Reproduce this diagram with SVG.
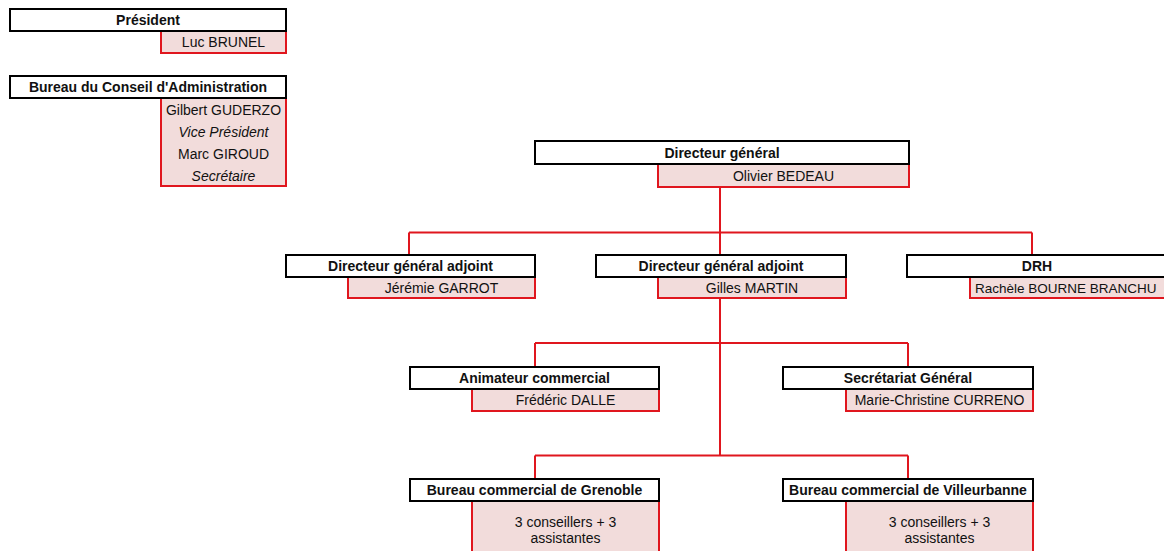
<svg xmlns="http://www.w3.org/2000/svg" width="1164" height="551" viewBox="0 0 1164 551">
<style>
.t{fill:#fff;stroke:#000;stroke-width:2}
.p{fill:#f2dcdb;stroke:none}
.pe{fill:none;stroke:#e0161e;stroke-width:2}
.c{fill:none;stroke:#e0161e;stroke-width:2}
text{font-family:"Liberation Sans",Arial,sans-serif;font-size:14px;fill:#111;text-anchor:middle}
.b{font-weight:bold}
.i{font-style:italic}
</style>
<rect width="1164" height="551" fill="#fff"/>
<g id="connectors">
<path class="c" d="M720 187V232.5M409 232.5H1032M409 232.5V255M1032 232.5V255M720 232.5V255"/>
<path class="c" d="M720 298V455.5M535 343H908M535 343V367M908 343V367M535 455.5H908M535 455.5V479M908 455.5V479"/>
</g>
<g id="president">
<rect class="p" x="161" y="31" width="125" height="22"/>
<path class="pe" d="M161 31V53H286V31"/>
<rect class="t" x="10" y="9" width="276" height="22"/>
<text class="b" x="148" y="25">Président</text>
<text x="223.5" y="47">Luc BRUNEL</text>
</g>
<g id="bureau-ca">
<rect class="p" x="161" y="98" width="125" height="88"/>
<path class="pe" d="M161 98V186H286V98"/>
<rect class="t" x="10" y="76" width="276" height="22"/>
<text class="b" x="148" y="92">Bureau du Conseil d'Administration</text>
<text x="223.5" y="115">Gilbert GUDERZO</text>
<text class="i" x="223.5" y="137">Vice Président</text>
<text x="223.5" y="159">Marc GIROUD</text>
<text class="i" x="223.5" y="181">Secrétaire</text>
</g>
<g id="dg">
<rect class="p" x="658" y="164" width="251" height="23"/>
<path class="pe" d="M658 164V187H909V164"/>
<rect class="t" x="535" y="141" width="374" height="23"/>
<text class="b" x="722" y="158">Directeur général</text>
<text x="783.5" y="181">Olivier BEDEAU</text>
</g>
<g id="dga1">
<rect class="p" x="348" y="277" width="187" height="21"/>
<path class="pe" d="M348 277V298H535V277"/>
<rect class="t" x="286" y="255" width="249" height="22"/>
<text class="b" x="410.5" y="271">Directeur général adjoint</text>
<text x="441.5" y="293">Jérémie GARROT</text>
</g>
<g id="dga2">
<rect class="p" x="658" y="277" width="188" height="21"/>
<path class="pe" d="M658 277V298H846V277"/>
<rect class="t" x="596" y="255" width="250" height="22"/>
<text class="b" x="721" y="271">Directeur général adjoint</text>
<text x="752" y="293">Gilles MARTIN</text>
</g>
<g id="drh">
<rect class="p" x="970" y="277" width="200" height="21"/>
<path class="pe" d="M970 277V298H1170"/>
<rect class="t" x="907" y="255" width="262" height="22"/>
<text class="b" x="1037" y="271">DRH</text>
<text x="975" y="293" style="text-anchor:start;font-size:13.5px">Rachèle BOURNE BRANCHU</text>
</g>
<g id="animateur">
<rect class="p" x="472" y="389" width="187" height="22"/>
<path class="pe" d="M472 389V411H659V389"/>
<rect class="t" x="410" y="367" width="249" height="22"/>
<text class="b" x="534.5" y="383">Animateur commercial</text>
<text x="565.5" y="405">Frédéric DALLE</text>
</g>
<g id="secretariat">
<rect class="p" x="846" y="389" width="187" height="22"/>
<path class="pe" d="M846 389V411H1033V389"/>
<rect class="t" x="783" y="367" width="250" height="22"/>
<text class="b" x="908" y="383">Secrétariat Général</text>
<text x="939.5" y="405">Marie-Christine CURRENO</text>
</g>
<g id="grenoble">
<rect class="p" x="472" y="501" width="187" height="52"/>
<path class="pe" d="M472 501V553M659 501V553"/>
<rect class="t" x="410" y="479" width="249" height="22"/>
<text class="b" x="534.5" y="495">Bureau commercial de Grenoble</text>
<text x="565.5" y="527">3 conseillers + 3</text>
<text x="565.5" y="543">assistantes</text>
</g>
<g id="villeurbanne">
<rect class="p" x="846" y="501" width="187" height="52"/>
<path class="pe" d="M846 501V553M1033 501V553"/>
<rect class="t" x="783" y="479" width="250" height="22"/>
<text class="b" x="908" y="495">Bureau commercial de Villeurbanne</text>
<text x="939.5" y="527">3 conseillers + 3</text>
<text x="939.5" y="543">assistantes</text>
</g>
</svg>
